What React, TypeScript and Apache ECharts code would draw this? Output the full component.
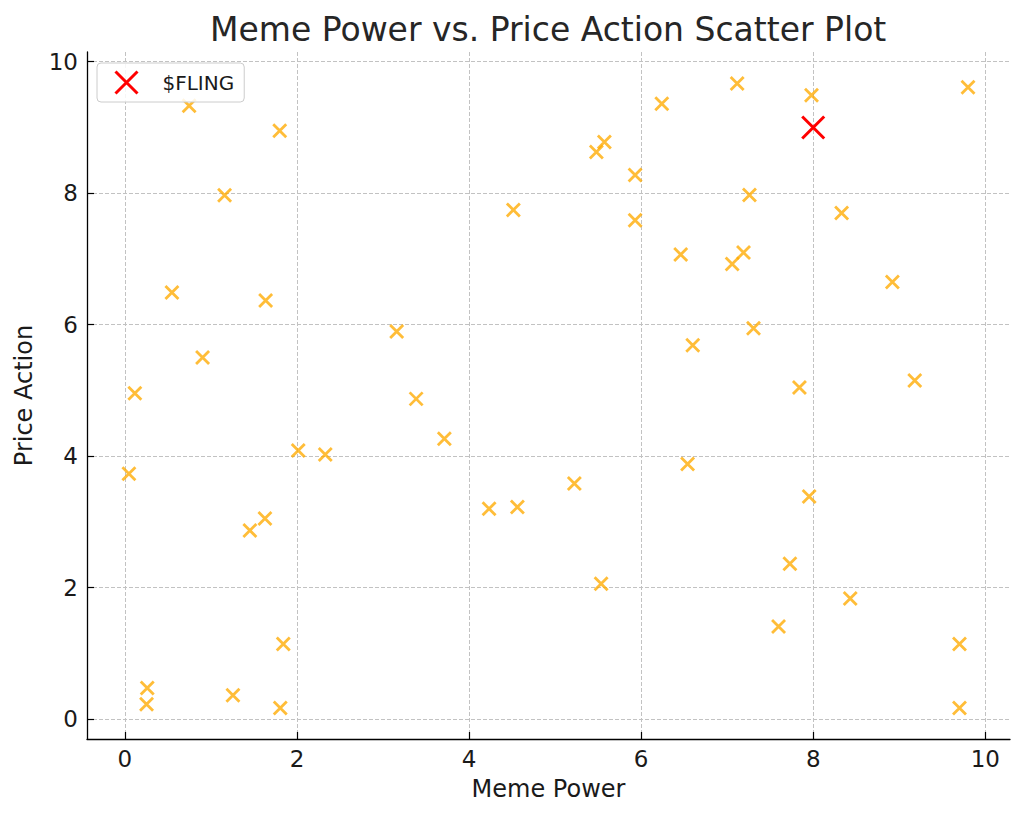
import React, { useEffect, useRef } from "react";
import * as echarts from "echarts";

// Meme Power (x) and Price Action (y) of the orange points
const memePower = [
  0.747, 1.8, 1.159, 4.515, 0.547, 1.636, 3.159, 0.903, 0.116, 3.385,
  3.713, 2.015, 2.329, 0.047, 4.233, 4.562, 1.628, 1.453, 1.841, 0.26,
  0.252, 1.256, 1.806, 7.116, 6.24, 7.98, 9.799, 5.573, 5.48, 5.93,
  7.259, 8.33, 5.93, 6.46, 7.19, 7.058, 8.92, 7.306, 6.6, 7.84,
  9.18, 5.224, 6.54, 7.953, 7.729, 5.535, 8.43, 7.597, 9.7, 9.7,
];
const priceAction = [
  9.33, 8.95, 7.97, 7.745, 6.49, 6.366, 5.894, 5.5, 4.957, 4.87,
  4.263, 4.085, 4.024, 3.73, 3.198, 3.224, 3.051, 2.868, 1.14, 0.471,
  0.222, 0.359, 0.167, 9.67, 9.36, 9.49, 9.61, 8.78, 8.627, 8.277,
  7.973, 7.7, 7.588, 7.066, 7.096, 6.924, 6.65, 5.946, 5.687, 5.043,
  5.149, 3.583, 3.878, 3.386, 2.362, 2.058, 1.834, 1.408, 1.14, 0.167,
];
const flingName = "$FLING";
const flingPoint = [8.0, 9.0];
const xTicks = [0, 2, 4, 6, 8, 10];
const yTicks = [0, 2, 4, 6, 8, 10];
const xRange = [-0.44, 10.287];
const yRange = [-0.305, 10.148];

const X_PATH = "path://M0,0L10,10M10,0L0,10";
const FONT = "DejaVu Sans";

export default function App() {
  const ref = useRef<HTMLDivElement>(null);

  useEffect(() => {
    document.body.style.margin = "0";
    const chart = echarts.init(ref.current as HTMLDivElement, null, { renderer: "svg" });
    const points = memePower.map((x, i) => [x, priceAction[i]]);

    const axisCommon = {
      type: "value",
      nameLocation: "middle",
      nameTextStyle: { fontFamily: FONT, fontSize: 24, color: "#1a1a1a" },
      axisLine: { show: true, onZero: false, lineStyle: { color: "#000", width: 1.3 } },
      axisTick: { show: true, inside: true, length: 7, lineStyle: { color: "#000", width: 1.2 } },
      splitLine: { show: true, lineStyle: { color: "#c2c2c2", width: 1, type: [4, 2] } },
    };

    chart.setOption({
      animation: false,
      backgroundColor: "#ffffff",
      title: {
        text: "Meme Power vs. Price Action Scatter Plot",
        left: 210,
        top: 13,
        padding: 0,
        textStyle: { fontFamily: FONT, fontSize: 33, fontWeight: "normal", color: "#262626" },
      },
      grid: { left: 87, right: 14, top: 52, bottom: 80, containLabel: false },
      legend: {
        show: true,
        left: 97,
        top: 63,
        orient: "vertical",
        padding: [7, 10, 7, 17],
        itemWidth: 22,
        itemHeight: 22,
        backgroundColor: "rgba(255,255,255,0.85)",
        borderColor: "#cccccc",
        borderWidth: 1,
        borderRadius: 4,
        textStyle: { fontFamily: FONT, fontSize: 20, color: "#1a1a1a", padding: [0, 0, 0, 20] },
        data: [
          {
            name: flingName,
            icon: X_PATH,
            itemStyle: { color: "transparent", borderColor: "#ff0000", borderWidth: 3, opacity: 1 },
          },
        ],
      },
      xAxis: {
        ...axisCommon,
        name: "Meme Power",
        nameGap: 38,
        min: xRange[0],
        max: xRange[1],
        axisTick: { ...axisCommon.axisTick, customValues: xTicks },
        axisLabel: {
          customValues: xTicks,
          margin: 8,
          fontFamily: FONT,
          fontSize: 23,
          color: "#1a1a1a",
        },
      },
      yAxis: {
        ...axisCommon,
        name: "Price Action",
        nameGap: 51,
        min: yRange[0],
        max: yRange[1],
        axisTick: { ...axisCommon.axisTick, customValues: yTicks },
        axisLabel: {
          customValues: yTicks,
          margin: 9,
          fontFamily: FONT,
          fontSize: 23,
          color: "#1a1a1a",
        },
      },
      series: [
        {
          type: "scatter",
          name: "points",
          data: points,
          symbol: X_PATH,
          symbolSize: 13,
          itemStyle: {
            color: "transparent",
            borderColor: "rgba(255,170,0,0.78)",
            borderWidth: 2.8,
            opacity: 1,
          },
          z: 3,
        },
        {
          type: "scatter",
          name: flingName,
          data: [flingPoint],
          symbol: X_PATH,
          symbolSize: 22,
          itemStyle: { color: "transparent", borderColor: "#ff0000", borderWidth: 3, opacity: 1 },
          z: 4,
        },
      ],
    });

    return () => chart.dispose();
  }, []);

  return <div ref={ref} style={{ width: 1024, height: 819 }} />;
}
